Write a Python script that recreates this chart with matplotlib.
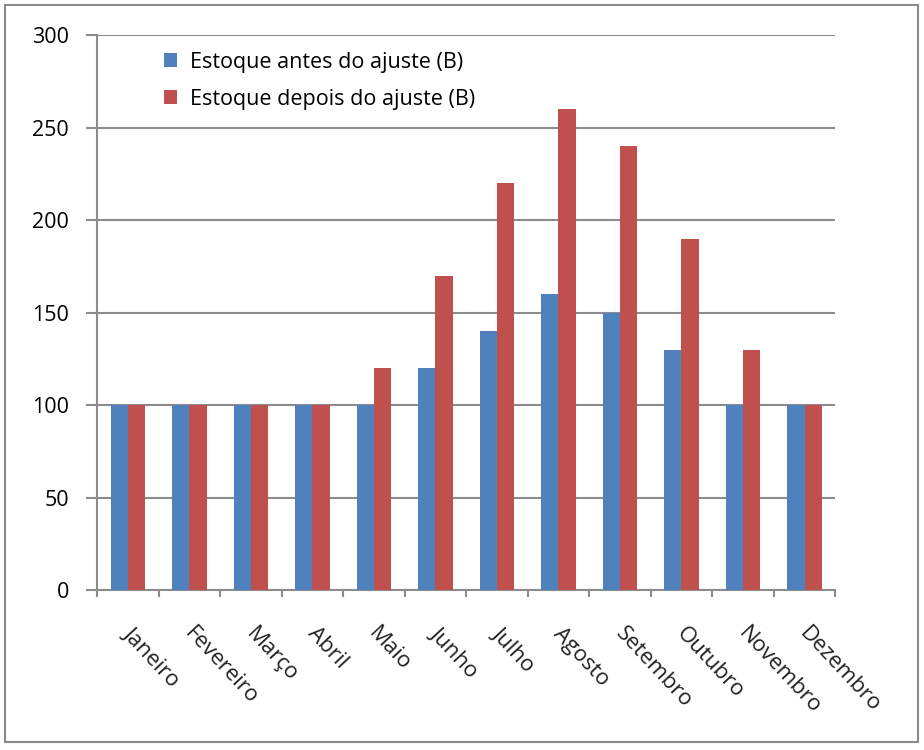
import numpy as np
import matplotlib.pyplot as plt
from matplotlib.patches import Rectangle

months = ["Janeiro", "Fevereiro", "Março", "Abril", "Maio", "Junho",
          "Julho", "Agosto", "Setembro", "Outubro", "Novembro", "Dezembro"]
antes = [100, 100, 100, 100, 100, 120, 140, 160, 150, 130, 100, 100]
depois = [100, 100, 100, 100, 120, 170, 220, 260, 240, 190, 130, 100]
yticks = [0, 50, 100, 150, 200, 250, 300]

plt.rcParams['font.family'] = ['Open Sans', 'DejaVu Sans']

fig = plt.figure(figsize=(9.24, 7.5), dpi=100)
ax = fig.add_axes([0.105, 0.2133, 0.799, 0.74])

# outer chart border
fig.patches.append(Rectangle((5 / 924, 8 / 750), 913 / 924, 737 / 750,
                             transform=fig.transFigure, fill=False,
                             edgecolor="#8a8a8a", linewidth=1.5))

x = np.arange(len(months))
w = 0.28
ax.bar(x - w / 2, antes, w, color="#4F81BD", label="Estoque antes do ajuste (B)", zorder=3)
ax.bar(x + w / 2, depois, w, color="#C0504D", label="Estoque depois do ajuste (B)", zorder=3)

ax.set_xlim(-0.5, len(months) - 0.5)
ax.set_ylim(0, 300)
ax.set_yticks(yticks)
ax.yaxis.grid(True, color="#8c8c8c", linewidth=1.5, zorder=0)
for s in ["top", "right"]:
    ax.spines[s].set_visible(False)
for s in ["left", "bottom"]:
    ax.spines[s].set_color("#8c8c8c")
    ax.spines[s].set_linewidth(1.5)

ax.tick_params(axis="y", length=8, width=1.5, color="#8c8c8c", labelsize=15.5, pad=12)
ax.set_xticks(np.arange(-0.5, len(months), 1.0))
ax.set_xticklabels([])
ax.tick_params(axis="x", length=5, width=1.5, color="#8c8c8c")

for i, m in enumerate(months):
    ax.text(i + 0.1, -18, m, rotation=-47, rotation_mode="anchor",
            ha="left", va="top", fontsize=16, color="#222222",
            transform=ax.transData, clip_on=False)

ax.legend(loc="upper left", bbox_to_anchor=(0.065, 1.005), frameon=False,
          fontsize=15.5, handlelength=0.6, handleheight=0.6,
          handletextpad=0.6, labelspacing=0.75)

plt.savefig("out.png", dpi=100)
